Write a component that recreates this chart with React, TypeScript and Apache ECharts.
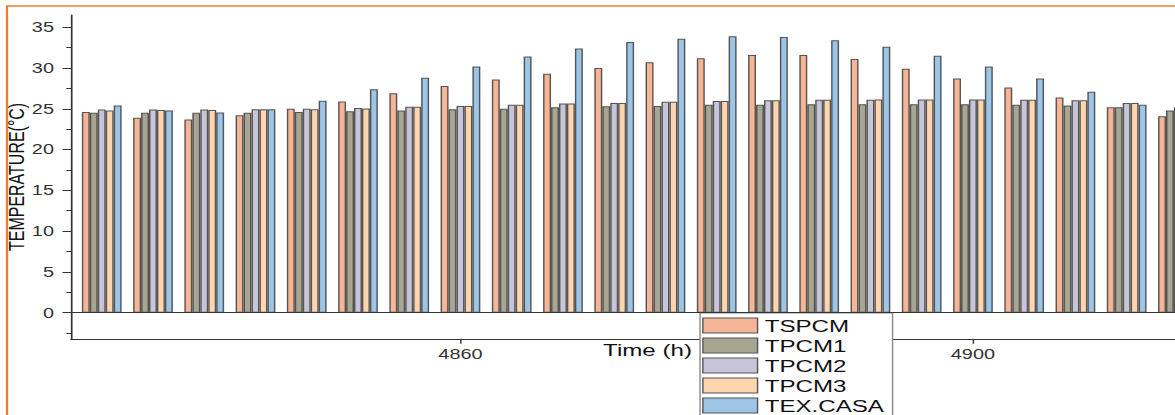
import React, { useEffect, useRef } from "react";
import * as echarts from "echarts";

// horizontal stretch of the original figure
const S = 1.42;

const hours = [4832, 4836, 4840, 4844, 4848, 4852, 4856, 4860, 4864, 4868, 4872, 4876, 4880, 4884, 4888, 4892, 4896, 4900, 4904, 4908, 4912, 4916];
const TSPCM = [24.6, 23.9, 23.7, 24.2, 25.0, 25.9, 26.9, 27.8, 28.6, 29.3, 30.0, 30.7, 31.2, 31.6, 31.6, 31.1, 29.9, 28.7, 27.6, 26.4, 25.2, 24.1];
const TPCM1 = [24.5, 24.5, 24.5, 24.5, 24.6, 24.7, 24.8, 24.95, 25.0, 25.2, 25.3, 25.35, 25.5, 25.5, 25.55, 25.55, 25.55, 25.55, 25.5, 25.4, 25.2, 24.8];
const TPCM2 = [24.9, 24.9, 24.9, 24.95, 25.0, 25.1, 25.25, 25.35, 25.5, 25.65, 25.7, 25.85, 25.95, 26.05, 26.1, 26.1, 26.15, 26.15, 26.1, 26.05, 25.7, 25.2];
const TPCM3 = [24.8, 24.85, 24.85, 24.95, 24.95, 25.05, 25.25, 25.35, 25.5, 25.65, 25.7, 25.85, 25.95, 26.05, 26.1, 26.15, 26.15, 26.15, 26.1, 26.05, 25.7, 25.2];
const TEXCASA = [25.4, 24.8, 24.55, 24.95, 26.0, 27.4, 28.8, 30.2, 31.4, 32.4, 33.2, 33.6, 33.9, 33.8, 33.4, 32.6, 31.5, 30.2, 28.7, 27.1, 25.5, 25.0];

const seriesNames = ["TSPCM", "TPCM1", "TPCM2", "TPCM3", "TEX.CASA"];
const seriesValues = [TSPCM, TPCM1, TPCM2, TPCM3, TEXCASA];
const seriesColors = ["#F4B697", "#A8A693", "#C9C5D8", "#FFD5B0", "#9DC5E6"];

const yMajorTicks = [0, 5, 10, 15, 20, 25, 30, 35];
const yMinorTicks = [-2.5, 2.5, 7.5, 12.5, 17.5, 22.5, 27.5, 32.5];
const xTickLabels = [4860, 4900];

const FONT = "'Liberation Sans', Arial, Helvetica, sans-serif";
const CHART_H = 460;

export default function App() {
  const ref = useRef<HTMLDivElement>(null);
  useEffect(() => {
    const chart = echarts.init(ref.current!, null, { renderer: "svg" });
    const option: any = {
      animation: false,
      backgroundColor: "#ffffff",
      textStyle: { fontFamily: FONT },
      graphic: [
        {
          type: "rect",
          silent: true,
          shape: { x: 7 / S, y: 6, width: 2000, height: 1000 },
          style: { fill: "none", stroke: "#ED7D31", lineWidth: 1.6 },
          z: 100,
        },
      ],
      grid: {
        left: 50,
        right: 38,
        top: 15,
        bottom: CHART_H - 338.8,
        containLabel: false,
        outerBoundsMode: "none",
      },
      legend: {
        orient: "vertical",
        left: 493,
        top: 313,
        padding: [4, 6, 4, 1.5],
        itemWidth: 38.5,
        itemHeight: 15,
        itemGap: 3,
        backgroundColor: "#ffffff",
        borderColor: "#8a8a8a",
        borderWidth: 1,
        icon: "rect",
        itemStyle: { borderColor: "#555555", borderWidth: 1 },
        textStyle: { fontSize: 17, color: "#111111", fontFamily: FONT, lineHeight: 15 },
        data: seriesNames,
      },
      xAxis: {
        type: "value",
        min: 4829.6,
        max: 4919.6,
        name: "Time (h)",
        nameLocation: "middle",
        nameGap: 3,
        nameMoveOverlap: false,
        nameTextStyle: { fontSize: 17, color: "#111111", fontFamily: FONT },
        axisLine: { show: true, onZero: false, lineStyle: { color: "#333333", width: 1.2 } },
        axisTick: { show: true, customValues: xTickLabels, length: 5, inside: false, lineStyle: { color: "#333333" } },
        axisLabel: {
          customValues: xTickLabels,
          formatter: (v: number) => String(v),
          fontSize: 14,
          color: "#333333",
          margin: 8,
          fontFamily: FONT,
        },
        splitLine: { show: false },
      },
      yAxis: [
        {
          type: "value",
          min: -3.2,
          max: 36.5,
          name: "TEMPERATURE(°C)",
          nameLocation: "middle",
          nameGap: 31,
          nameMoveOverlap: false,
          nameTextStyle: { fontSize: 16, color: "#111111", fontFamily: FONT },
          axisLine: { show: true, lineStyle: { color: "#333333", width: 1.2 } },
          axisTick: { show: true, customValues: yMajorTicks, length: 6, lineStyle: { color: "#333333" } },
          axisLabel: {
            customValues: yMajorTicks,
            formatter: (v: number) => String(v),
            fontSize: 14,
            color: "#333333",
            margin: 12,
            fontFamily: FONT,
          },
          splitLine: { show: false },
        },
        {
          type: "value",
          min: -3.2,
          max: 36.5,
          position: "left",
          axisLine: { show: false },
          axisTick: { show: true, customValues: yMinorTicks, length: 3.3, lineStyle: { color: "#333333" } },
          axisLabel: { show: false },
          splitLine: { show: false },
        },
      ],
      series: seriesNames.map((name, si) => ({
        name,
        type: "bar",
        xAxisIndex: 0,
        yAxisIndex: 0,
        barWidth: 5.6,
        barGap: "0%",
        itemStyle: { color: seriesColors[si], borderColor: "rgba(60,60,60,0.85)", borderWidth: 1 },
        data: hours.map((h, i) => [h, seriesValues[si][i]]),
        ...(si === 0
          ? {
              markLine: {
                silent: true,
                symbol: "none",
                label: { show: false },
                lineStyle: { color: "#333333", width: 1, type: "solid" },
                data: [{ yAxis: 0 }],
              },
            }
          : {}),
      })),
    };
    chart.setOption(option);
    return () => chart.dispose();
  }, []);
  return (
    <div
      style={{
        position: "fixed",
        left: 0,
        top: 0,
        width: 1175,
        height: 415,
        overflow: "hidden",
        background: "#ffffff",
      }}
    >
      <div
        ref={ref}
        style={{ width: 900, height: CHART_H, transform: `scaleX(${S})`, transformOrigin: "0 0" }}
      />
    </div>
  );
}
